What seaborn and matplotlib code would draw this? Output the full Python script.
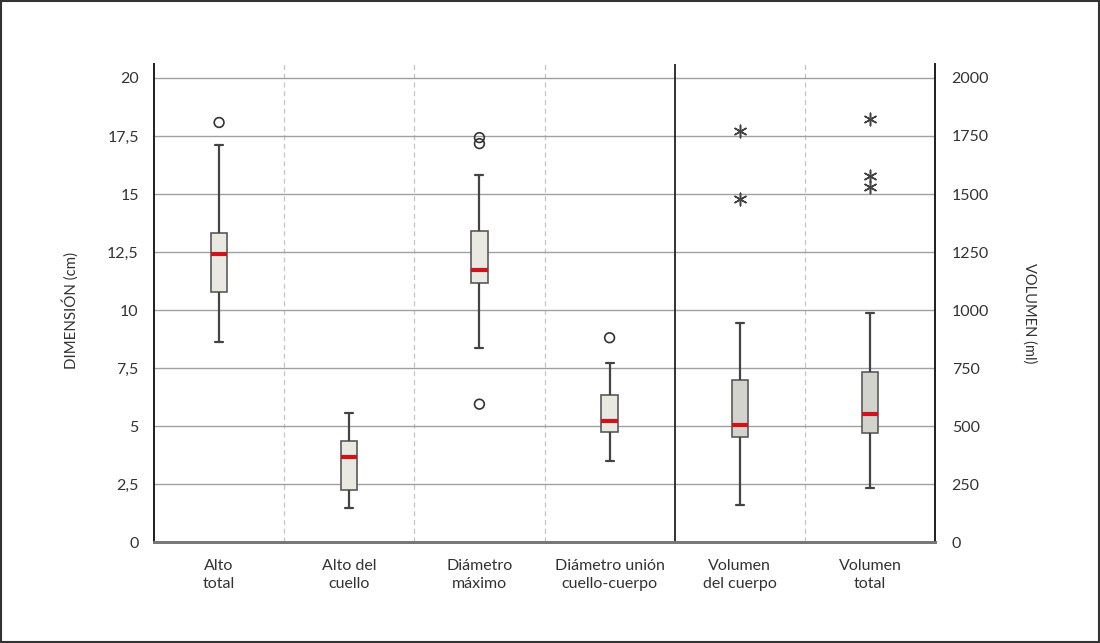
import pandas as pd
import matplotlib.pyplot as plt
import seaborn as sns
from matplotlib.patches import Rectangle

# categories (x axis), two lines each
categories = ["Alto\ntotal", "Alto del\ncuello", "Diámetro\nmáximo",
              "Diámetro unión\ncuello-cuerpo", "Volumen\ndel cuerpo", "Volumen\ntotal"]
dim_cats = categories[:4]
vol_cats = categories[4:]

# five-number summaries
# dimensions (cm)
dim_low = [8.63, 1.47, 8.37, 3.50]
dim_q1 = [10.76, 2.25, 11.18, 4.75]
dim_med = [12.43, 3.67, 11.74, 5.23]
dim_q3 = [13.32, 4.38, 13.42, 6.35]
dim_high = [17.09, 5.56, 15.83, 7.73]
# volumes (ml)
vol_low = [161, 235]
vol_q1 = [453, 472]
vol_med = [504, 553]
vol_q3 = [700, 734]
vol_high = [946, 989]

# outliers
dim_out_cat = ["Alto\ntotal", "Diámetro\nmáximo", "Diámetro\nmáximo", "Diámetro\nmáximo",
               "Diámetro unión\ncuello-cuerpo"]
dim_out_val = [18.08, 17.43, 17.17, 5.95, 8.81]
vol_out_cat = ["Volumen\ndel cuerpo", "Volumen\ndel cuerpo", "Volumen\ntotal",
               "Volumen\ntotal", "Volumen\ntotal"]
vol_out_val = [1773, 1478, 1825, 1578, 1529]

# tick labels
dim_ticks = [0, 2.5, 5, 7.5, 10, 12.5, 15, 17.5, 20]
dim_tick_labels = ["0", "2,5", "5", "7,5", "10", "12,5", "15", "17,5", "20"]
vol_ticks = [0, 250, 500, 750, 1000, 1250, 1500, 1750, 2000]
vol_tick_labels = ["0", "250", "500", "750", "1000", "1250", "1500", "1750", "2000"]

# long tables for seaborn (each group: low, q1, median, q3, high)
rows = []
for c, lo, a, m, b, hi in zip(dim_cats, dim_low, dim_q1, dim_med, dim_q3, dim_high):
    for v in (lo, a, m, b, hi):
        rows.append({"cat": c, "val": v})
dim_df = pd.DataFrame(rows)
rows = []
for c, lo, a, m, b, hi in zip(vol_cats, vol_low, vol_q1, vol_med, vol_q3, vol_high):
    for v in (lo, a, m, b, hi):
        rows.append({"cat": c, "val": v})
vol_df = pd.DataFrame(rows)
dim_out = pd.DataFrame({"cat": dim_out_cat, "val": dim_out_val})
vol_out = pd.DataFrame({"cat": vol_out_cat, "val": vol_out_val})

sns.set_style("white")
plt.rcParams["font.family"] = ["Lato", "DejaVu Sans"]
text_color = "#333333"

fig = plt.figure(figsize=(11, 6.43), dpi=100)
ax = fig.add_axes([0.14, 0.1566, 0.71, 0.7439])
ax2 = ax.twinx()

box_kws = dict(
    width=0.125, whis=(0, 100), showfliers=False, saturation=1, linewidth=1.2,
    boxprops=dict(edgecolor="#5a5a5a", linewidth=1.2),
    medianprops=dict(color="#d0121b", linewidth=3),
    whiskerprops=dict(color="#444444", linewidth=1.6),
    capprops=dict(color="#444444", linewidth=1.6),
)

sns.boxplot(data=dim_df, x="cat", y="val", order=categories, color="#e9e9e2", ax=ax, **box_kws)
sns.boxplot(data=vol_df, x="cat", y="val", order=categories, color="#d3d3ce", ax=ax2, **box_kws)

# outliers: circles for dimensions, asterisks for volumes
sns.stripplot(data=dim_out, x="cat", y="val", order=categories, jitter=False, ax=ax,
              marker="o", size=7, facecolor="none", edgecolor="#333333", linewidth=1.2,
              color="#333333", zorder=5)
sns.stripplot(data=vol_out, x="cat", y="val", order=categories, jitter=False, ax=ax2,
              marker=(6, 2, 0), size=9, edgecolor="#444444", linewidth=1.1,
              color="#444444", zorder=5)

ax.set_ylim(0, 20.6)
ax2.set_ylim(0, 2060)
ax.set_xlim(-0.5, 5.5)

# horizontal grid
ax.set_yticks(dim_ticks)
ax.set_yticklabels(dim_tick_labels)
ax.yaxis.grid(True, color="#a0a0a0", linewidth=1)
ax.set_axisbelow(True)
ax2.set_yticks(vol_ticks)
ax2.set_yticklabels(vol_tick_labels)
ax2.grid(False)

# category separators
for xpos in [0.5, 1.5, 2.5, 4.5]:
    ax.axvline(xpos, color="#c4c4c4", linewidth=0.9, linestyle=(0, (4, 3)), zorder=0)
ax.axvline(3.5, color="#222222", linewidth=1.3, zorder=1)

# x ticks: marks at boundaries, labels at centres
ax.set_xticks([i - 0.5 for i in range(len(categories) + 1)])
ax.set_xticklabels([])
ax.set_xticks(range(len(categories)), minor=True)
ax.set_xticklabels(categories, minor=True, fontsize=11.5, color=text_color, linespacing=1.35)
ax.tick_params(axis="x", which="major", length=9, width=1.2, color="#555555", direction="out")
ax.tick_params(axis="x", which="minor", length=0, pad=12)
ax2.tick_params(axis="x", which="both", length=0)
ax.tick_params(axis="y", length=0, pad=11, labelsize=11.5, labelcolor=text_color)
ax2.tick_params(axis="y", length=0, pad=12, labelsize=11.5, labelcolor=text_color)

ax.set_xlabel("")
ax2.set_xlabel("")
ax.set_ylabel("DIMENSIÓN (cm)", fontsize=10.8, color=text_color)
ax.yaxis.set_label_coords(-0.097, 0.485)
ax2.set_ylabel("VOLUMEN (ml)", fontsize=10.5, color=text_color, rotation=270, va="bottom")
ax2.yaxis.set_label_coords(1.112, 0.48)

for a in (ax, ax2):
    a.spines["top"].set_visible(False)
    a.spines["left"].set_color("#222222")
    a.spines["right"].set_color("#222222")
    a.spines["left"].set_linewidth(1.3)
    a.spines["right"].set_linewidth(1.3)
    a.spines["bottom"].set_color("#777777")
    a.spines["bottom"].set_linewidth(2)

# frame around the whole figure
fig.patches.append(Rectangle((0.001, 0.001), 0.998, 0.997, transform=fig.transFigure,
                             fill=False, edgecolor="#333333", linewidth=1.5))

plt.savefig("out.png", dpi=100)
